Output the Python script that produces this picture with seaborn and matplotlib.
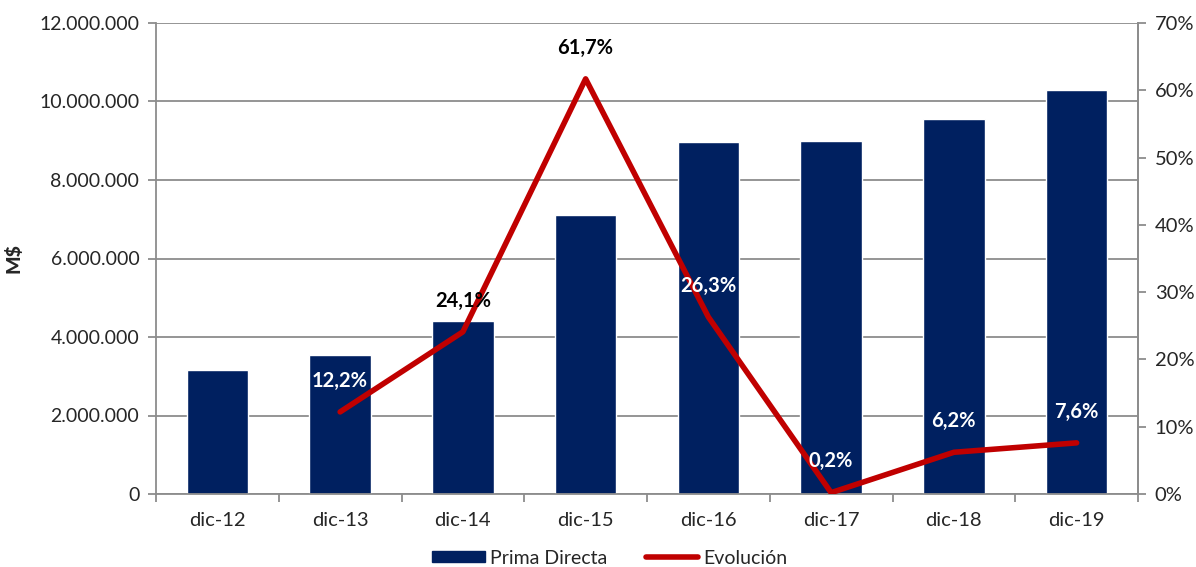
import matplotlib
matplotlib.use("Agg")
import matplotlib.pyplot as plt
from matplotlib.ticker import FuncFormatter, MultipleLocator, FixedLocator
from matplotlib.patches import Patch
from matplotlib.lines import Line2D
import seaborn as sns
import pandas as pd
import numpy as np

periodos = ["dic-12", "dic-13", "dic-14", "dic-15", "dic-16", "dic-17", "dic-18", "dic-19"]
prima_directa = [3160000, 3545000, 4400000, 7110000, 8975000, 8995000, 9560000, 10290000]
evolucion = [np.nan, 0.122, 0.241, 0.617, 0.263, 0.002, 0.062, 0.076]
etiquetas = [None, "12,2%", "24,1%", "61,7%", "26,3%", "0,2%", "6,2%", "7,6%"]
color_etiqueta = [None, "white", "black", "black", "white", "white", "white", "white"]

sns.set_theme(style="white")
plt.rcParams["font.family"] = ["Lato", "DejaVu Sans"]

NAVY = "#002060"
RED = "#C00000"
GRID = "#8C8C8C"

df = pd.DataFrame({"periodo": periodos, "prima": prima_directa, "evol": evolucion})

fig = plt.figure(figsize=(11.96, 5.67), dpi=100)
ax = fig.add_axes([156 / 1196, 1 - 494 / 567, (1138 - 156) / 1196, (494 - 23) / 567])

sns.barplot(data=df, x="periodo", y="prima", color=NAVY, width=0.5, ax=ax,
            saturation=1, zorder=2)
ax.set_ylim(0, 12000000)
ax.set_xlim(-0.5, len(periodos) - 0.5)
ax.yaxis.set_major_locator(MultipleLocator(2000000))
ax.yaxis.set_major_formatter(FuncFormatter(lambda v, p: f"{int(v):,}".replace(",", ".")))
ax.grid(axis="y", color=GRID, linewidth=1.3, zorder=0)
ax.set_axisbelow(True)
ax.set_xlabel("")
ax.set_ylabel("M$", fontsize=14, fontweight="black", labelpad=12)
ax.spines["top"].set_visible(False)
for s in ["left", "bottom", "right"]:
    ax.spines[s].set_color(GRID)
    ax.spines[s].set_linewidth(1.3)
ax.tick_params(axis="y", which="major", direction="out", length=6, color=GRID, width=1.3,
               labelsize=14, pad=6, left=True)
# category ticks sit between the bars
ax.xaxis.set_major_locator(FixedLocator(np.arange(len(periodos))))
ax.xaxis.set_minor_locator(FixedLocator(np.arange(-0.5, len(periodos), 1.0)))
ax.tick_params(axis="x", which="major", length=0, labelsize=14.5, pad=13)
ax.tick_params(axis="x", which="minor", direction="out", length=6, color=GRID, width=1.3,
               bottom=True)

ax2 = ax.twinx()
sns.lineplot(data=df, x="periodo", y="evol", color=RED, linewidth=4, ax=ax2, zorder=3,
             solid_capstyle="round", sort=False)
ax2.set_ylim(0, 0.7)
ax2.set_xlim(-0.5, len(periodos) - 0.5)
ax2.yaxis.set_major_locator(MultipleLocator(0.1))
ax2.yaxis.set_major_formatter(FuncFormatter(lambda v, p: f"{round(v * 100):d}%"))
ax2.set_ylabel("")
ax2.set_xlabel("")
for s in ["top", "left", "bottom"]:
    ax2.spines[s].set_visible(False)
ax2.spines["right"].set_color(GRID)
ax2.spines["right"].set_linewidth(1.3)
ax2.tick_params(axis="y", direction="out", length=6, color=GRID, width=1.3, labelsize=14.5,
                pad=6, right=True)
ax2.grid(False)

for i, (val, txt, col) in enumerate(zip(evolucion, etiquetas, color_etiqueta)):
    if txt is None:
        continue
    ax2.annotate(txt, (i, val), xytext=(0, 22.5), textcoords="offset points",
                 ha="center", va="center", fontsize=14.5, fontweight="bold", color=col,
                 zorder=5)

handles = [Patch(facecolor=NAVY, edgecolor=NAVY),
           Line2D([0], [0], color=RED, linewidth=4, solid_capstyle="round")]
fig.legend(handles, ["Prima Directa", "Evolución"], loc="lower center",
           bbox_to_anchor=(0.51, -0.03), ncol=2, frameon=False, fontsize=14,
           handlelength=2.7, handleheight=0.45, handletextpad=0.25, columnspacing=2.0)

fig.savefig("out.png", dpi=100)
